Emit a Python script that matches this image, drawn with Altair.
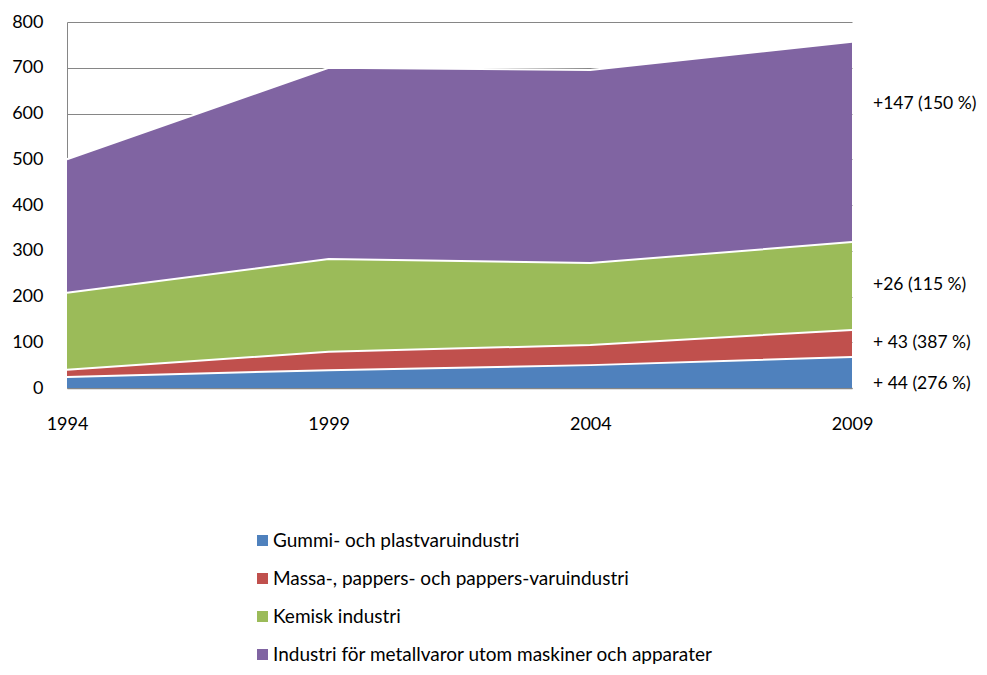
import altair as alt
import pandas as pd

years = [1994, 1999, 2004, 2009]
series = [
    "Gummi- och plastvaruindustri",
    "Massa-, pappers- och pappers-varuindustri",
    "Kemisk industri",
    "Industri för metallvaror utom maskiner och apparater",
]
gummi = [24, 39, 50, 68]
massa = [16, 40, 44, 59]
kemisk = [168, 203, 179, 192]
metall = [292, 418, 422, 438]
colors = ["#4F81BD", "#C0504D", "#9BBB59", "#8064A2"]

notes = ["+ 44 (276 %)", "+ 43 (387 %)", "+26 (115 %)", "+147 (150 %)"]
note_y = [8, 98, 225, 620]

FONT = "Lato"

rows = []
for name, vals in zip(series, [gummi, massa, kemisk, metall]):
    for yr, v in zip(years, vals):
        rows.append({"year": yr, "series": name, "value": v, "order": series.index(name)})
df = pd.DataFrame(rows)

notes_df = pd.DataFrame({"year": [years[-1]] * len(notes), "y": note_y, "label": notes})

x = alt.X(
    "year:Q",
    scale=alt.Scale(domain=[years[0], years[-1]], nice=False, zero=False),
    axis=alt.Axis(
        values=years, format="d", title=None, grid=False, ticks=False,
        labelFontSize=18, labelFont=FONT, labelColor="#000000", labelPadding=27,
        domainColor="#868686", domainWidth=1.5, labelFlush=False,
    ),
)

y_enc = alt.Y(
    "value:Q",
    stack="zero",
    scale=alt.Scale(domain=[0, 800], nice=False),
    axis=alt.Axis(
        values=list(range(0, 801, 100)), title=None, ticks=False,
        labelFontSize=18, labelFont=FONT, labelColor="#000000", labelPadding=24,
        gridColor="#868686", gridWidth=1, domainColor="#868686", domainWidth=1,
    ),
)

color = alt.Color(
    "series:N",
    scale=alt.Scale(domain=series, range=colors),
    sort=series,
    legend=alt.Legend(
        title=None, orient="none", legendX=186, legendY=509, direction="vertical",
        symbolType="square", symbolSize=121, symbolStrokeWidth=0,
        labelFontSize=19, labelFont=FONT, labelColor="#000000",
        rowPadding=18, labelOffset=1, labelLimit=700,
    ),
)

area = alt.Chart(df).mark_area(opacity=1).encode(
    x=x, y=y_enc, color=color, order=alt.Order("order:Q")
)

lines = alt.Chart(df).mark_line(color="white", strokeWidth=2).encode(
    x="year:Q",
    y=alt.Y("value:Q", stack="zero"),
    detail="series:N",
    order=alt.Order("order:Q"),
)

text = alt.Chart(notes_df).mark_text(
    align="left", baseline="middle", dx=21, fontSize=17.5, font=FONT, color="#000000"
).encode(x="year:Q", y="y:Q", text="label:N")

chart = (
    alt.layer(area, lines, text)
    .properties(
        width=785,
        height=366,
        autosize=alt.AutoSizeParams(type="none"),
        padding={"left": 59, "top": 14, "right": 127, "bottom": 279},
    )
    .configure_view(stroke=None)
)

chart.save("out.html", embed_options={"renderer": "svg", "actions": False})
